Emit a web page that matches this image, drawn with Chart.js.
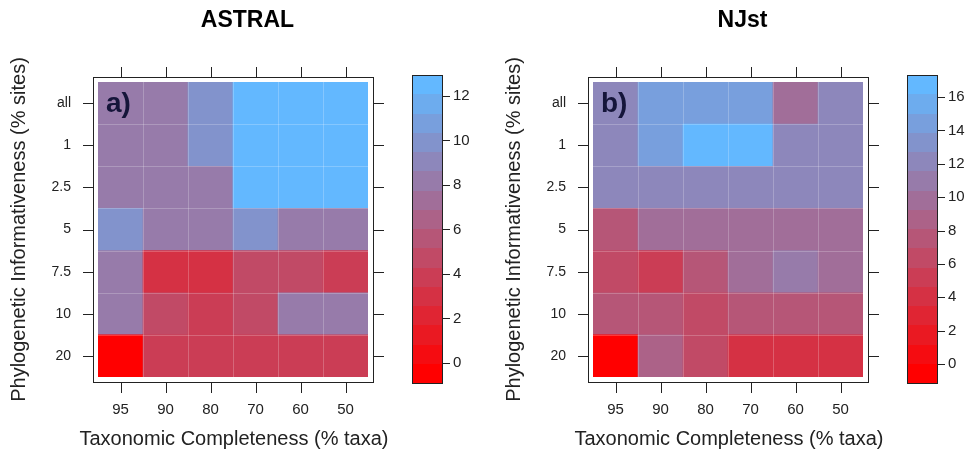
<!DOCTYPE html>
<html><head><meta charset="utf-8">
<script src="https://cdn.jsdelivr.net/npm/chart.js@4.4.1/dist/chart.umd.min.js"></script>
<style>
html,body{margin:0;padding:0;background:#fff;overflow:hidden;width:978px;height:458px;}
#wrap{position:relative;width:978px;height:458px;overflow:hidden;}
canvas{position:absolute;top:0;}
</style></head><body>
<div id="wrap">
<canvas id="cA" width="495" height="458" style="left:0"></canvas>
<canvas id="cB" width="495" height="458" style="left:495px"></canvas>
</div>
<script>
// ---- data (rows listed top to bottom) ----
const columnLabels = ['95', '90', '80', '70', '60', '50'];
const rowLabels = ['all', '1', '2.5', '5', '7.5', '10', '20'];
const xTitle = 'Taxonomic Completeness (% taxa)';
const yTitle = 'Phylogenetic Informativeness (% sites)';

const astralValues = [
  [8.1, 8.1, 9.5, 12.94, 12.94, 12.94],
  [8.1, 8.1, 9.5, 12.94, 12.94, 12.94],
  [8.0, 8.0, 7.9, 12.94, 12.94, 12.94],
  [10.2, 8.3, 8.3, 9.7, 8.3, 8.3],
  [8.5, 3.3, 3.3, 4.6, 4.6, 3.5],
  [8.2, 4.6, 3.7, 4.6, 8.4, 8.4],
  [-0.9, 3.9, 3.9, 3.9, 3.9, 3.9]
];
const astralRange = [-0.9, 12.94];
const astralKeyTicks = [0, 2, 4, 6, 8, 10, 12];

const njstValues = [
  [12.0, 14.4, 14.4, 14.4, 9.8, 12.0],
  [12.0, 14.4, 17.32, 17.32, 12.0, 12.0],
  [12.0, 12.0, 12.0, 12.0, 12.0, 12.0],
  [7.0, 9.8, 9.8, 9.8, 9.8, 9.8],
  [6.4, 5.2, 7.5, 9.8, 10.6, 9.8],
  [7.5, 7.5, 6.4, 7.5, 7.5, 7.5],
  [-1.14, 8.5, 6.4, 4.0, 4.0, 4.0]
];
const njstRange = [-1.14, 17.32];
const njstKeyTicks = [0, 2, 4, 6, 8, 10, 12, 14, 16];

// ---- styling ----
const FONT = "'Liberation Sans', Arial, Helvetica, sans-serif";
Chart.defaults.font.family = FONT;
const LOW = [255, 0, 0], HIGH = [99, 184, 255];
const CUTS = 16;
function ramp(t) {
  const c = LOW.map((l, i) => Math.round(l + (HIGH[i] - l) * t));
  return `rgb(${c[0]},${c[1]},${c[2]})`;
}
function breaksFor(range) {
  const out = [];
  for (let k = 0; k <= CUTS; k++) out.push(range[0] + (range[1] - range[0]) * k / CUTS);
  return out;
}
function bandOf(v, br) {
  for (let k = 0; k < CUTS; k++) if (v < br[k + 1]) return k;
  return CUTS - 1;
}
function fixSize(prop, size) {
  return s => {
    s[prop] = size;
    s.paddingTop = 0; s.paddingBottom = 0; s.paddingLeft = 0; s.paddingRight = 0;
  };
}

const decor = {
  id: 'decor',
  afterDatasetsDraw(chart, args, o) {
    const {ctx, chartArea: a, scales} = chart;
    const pad = 5, tl = 10;
    ctx.save();
    // faint cell boundary lines
    ctx.strokeStyle = 'rgba(255,255,255,0.22)';
    ctx.lineWidth = 1;
    ctx.beginPath();
    for (let i = 1; i < columnLabels.length; i++) {
      const x = Math.round((scales.x.getPixelForTick(i - 1) + scales.x.getPixelForTick(i)) / 2) + 0.5;
      ctx.moveTo(x, a.top); ctx.lineTo(x, a.bottom);
    }
    for (let j = 1; j < rowLabels.length; j++) {
      const y = Math.round(scales.y.getPixelForValue(j)) + 0.5;
      ctx.moveTo(a.left, y); ctx.lineTo(a.right, y);
    }
    ctx.stroke();
    ctx.strokeStyle = '#222';
    // panel frame
    const L = Math.round(a.left - pad), R = Math.round(a.right + pad);
    const T = Math.round(a.top - pad), B = Math.round(a.bottom + pad);
    ctx.strokeRect(L + 0.5, T + 0.5, R - L, B - T);
    ctx.beginPath();
    scales.x.ticks.forEach((t, i) => {
      const x = Math.round(scales.x.getPixelForTick(i)) + 0.5;
      ctx.moveTo(x, T); ctx.lineTo(x, T - tl);
      ctx.moveTo(x, B + 1); ctx.lineTo(x, B + 1 + tl);
    });
    scales.y.ticks.forEach(t => {
      const y = Math.round(scales.y.getPixelForValue(t.value)) + 0.5;
      ctx.moveTo(L, y); ctx.lineTo(L - tl, y);
      ctx.moveTo(R + 1, y); ctx.lineTo(R + 1 + tl, y);
    });
    ctx.stroke();
    // panel tag
    ctx.fillStyle = '#15153a';
    ctx.font = `bold 28px ${FONT}`;
    ctx.textBaseline = 'alphabetic';
    ctx.textAlign = 'left';
    ctx.fillText(o.tag, a.left + 8, a.top + 30);
    // x axis title (drawn unsqueezed)
    ctx.fillStyle = '#222';
    ctx.font = `20px ${FONT}`;
    ctx.textAlign = 'center';
    ctx.fillText(o.xTitle, (a.left + a.right) / 2 + 1, a.bottom + 68);
    // colour key
    const key = scales.key, br = o.breaks;
    const x0 = Math.round(a.right + 44), w = 30;
    for (let k = 0; k < CUTS; k++) {
      const yt = Math.round(key.getPixelForValue(br[k + 1]));
      const yb = Math.round(key.getPixelForValue(br[k]));
      ctx.fillStyle = ramp(k / (CUTS - 1));
      ctx.fillRect(x0, yt, w, yb - yt);
    }
    const kt = Math.round(key.getPixelForValue(br[CUTS]));
    const kb = Math.round(key.getPixelForValue(br[0]));
    ctx.strokeStyle = '#222';
    ctx.strokeRect(x0 + 0.5, kt + 0.5, w, kb - kt);
    ctx.beginPath();
    key.ticks.forEach(t => {
      const y = Math.round(key.getPixelForValue(t.value)) + 0.5;
      ctx.moveTo(x0 + w + 1, y); ctx.lineTo(x0 + w + 8, y);
    });
    ctx.stroke();
    ctx.restore();
  }
};

function makePanel(id, title, tag, values, range, keyTicks) {
  const br = breaksFor(range);
  const span = range[1] - range[0];
  // colour-key axis: key spans 7px above and 6px below the plot area (308px total)
  const keyMin = range[0] + span * 6 / 308;
  const keyMax = range[1] - span * 7 / 308;
  const datasets = [];
  for (let r = rowLabels.length - 1; r >= 0; r--) {
    datasets.push({
      label: rowLabels[r],
      data: columnLabels.map(() => 1),
      backgroundColor: values[r].map(v => ramp(bandOf(v, br) / (CUTS - 1))),
      borderWidth: 0,
      barPercentage: 1,
      categoryPercentage: 1
    });
  }
  return new Chart(document.getElementById(id), {
    type: 'bar',
    data: {labels: columnLabels, datasets},
    plugins: [decor],
    options: {
      responsive: false,
      animation: false,
      devicePixelRatio: 1,
      events: [],
      layout: {padding: 0},
      plugins: {
        legend: {display: false},
        tooltip: {enabled: false},
        title: {
          display: true, text: title, color: '#000',
          font: {size: 23, weight: 'bold'},
          padding: {top: 7, bottom: 47.4}
        },
        decor: {tag, breaks: br, xTitle}
      },
      scales: {
        x: {
          type: 'category', stacked: true, offset: true,
          grid: {display: false, drawTicks: false},
          border: {display: false},
          ticks: {padding: 24, color: '#222', font: {size: 15}},
          afterFit: fixSize('height', 81)
        },
        y: {
          type: 'linear', stacked: true, min: 0, max: rowLabels.length,
          grid: {display: false, drawTicks: false},
          border: {display: false},
          afterBuildTicks: s => { s.ticks = rowLabels.map((_, i) => ({value: i + 0.5})); },
          ticks: {
            padding: 27, color: '#222', font: {size: 14},
            callback: (v, i) => rowLabels[rowLabels.length - 1 - i]
          },
          title: {display: true, text: yTitle, color: '#222', font: {size: 20}, padding: {top: 7, bottom: 0}},
          afterFit: fixSize('width', 98)
        },
        key: {
          type: 'linear', position: 'right', min: keyMin, max: keyMax,
          grid: {display: false, drawTicks: false},
          border: {display: false},
          afterBuildTicks: s => { s.ticks = keyTicks.map(v => ({value: v})); },
          ticks: {padding: 85, color: '#222', font: {size: 15}},
          afterFit: fixSize('width', 127)
        }
      }
    }
  });
}

makePanel('cA', 'ASTRAL', 'a)', astralValues, astralRange, astralKeyTicks);
makePanel('cB', 'NJst', 'b)', njstValues, njstRange, njstKeyTicks);
</script>
</body></html>
